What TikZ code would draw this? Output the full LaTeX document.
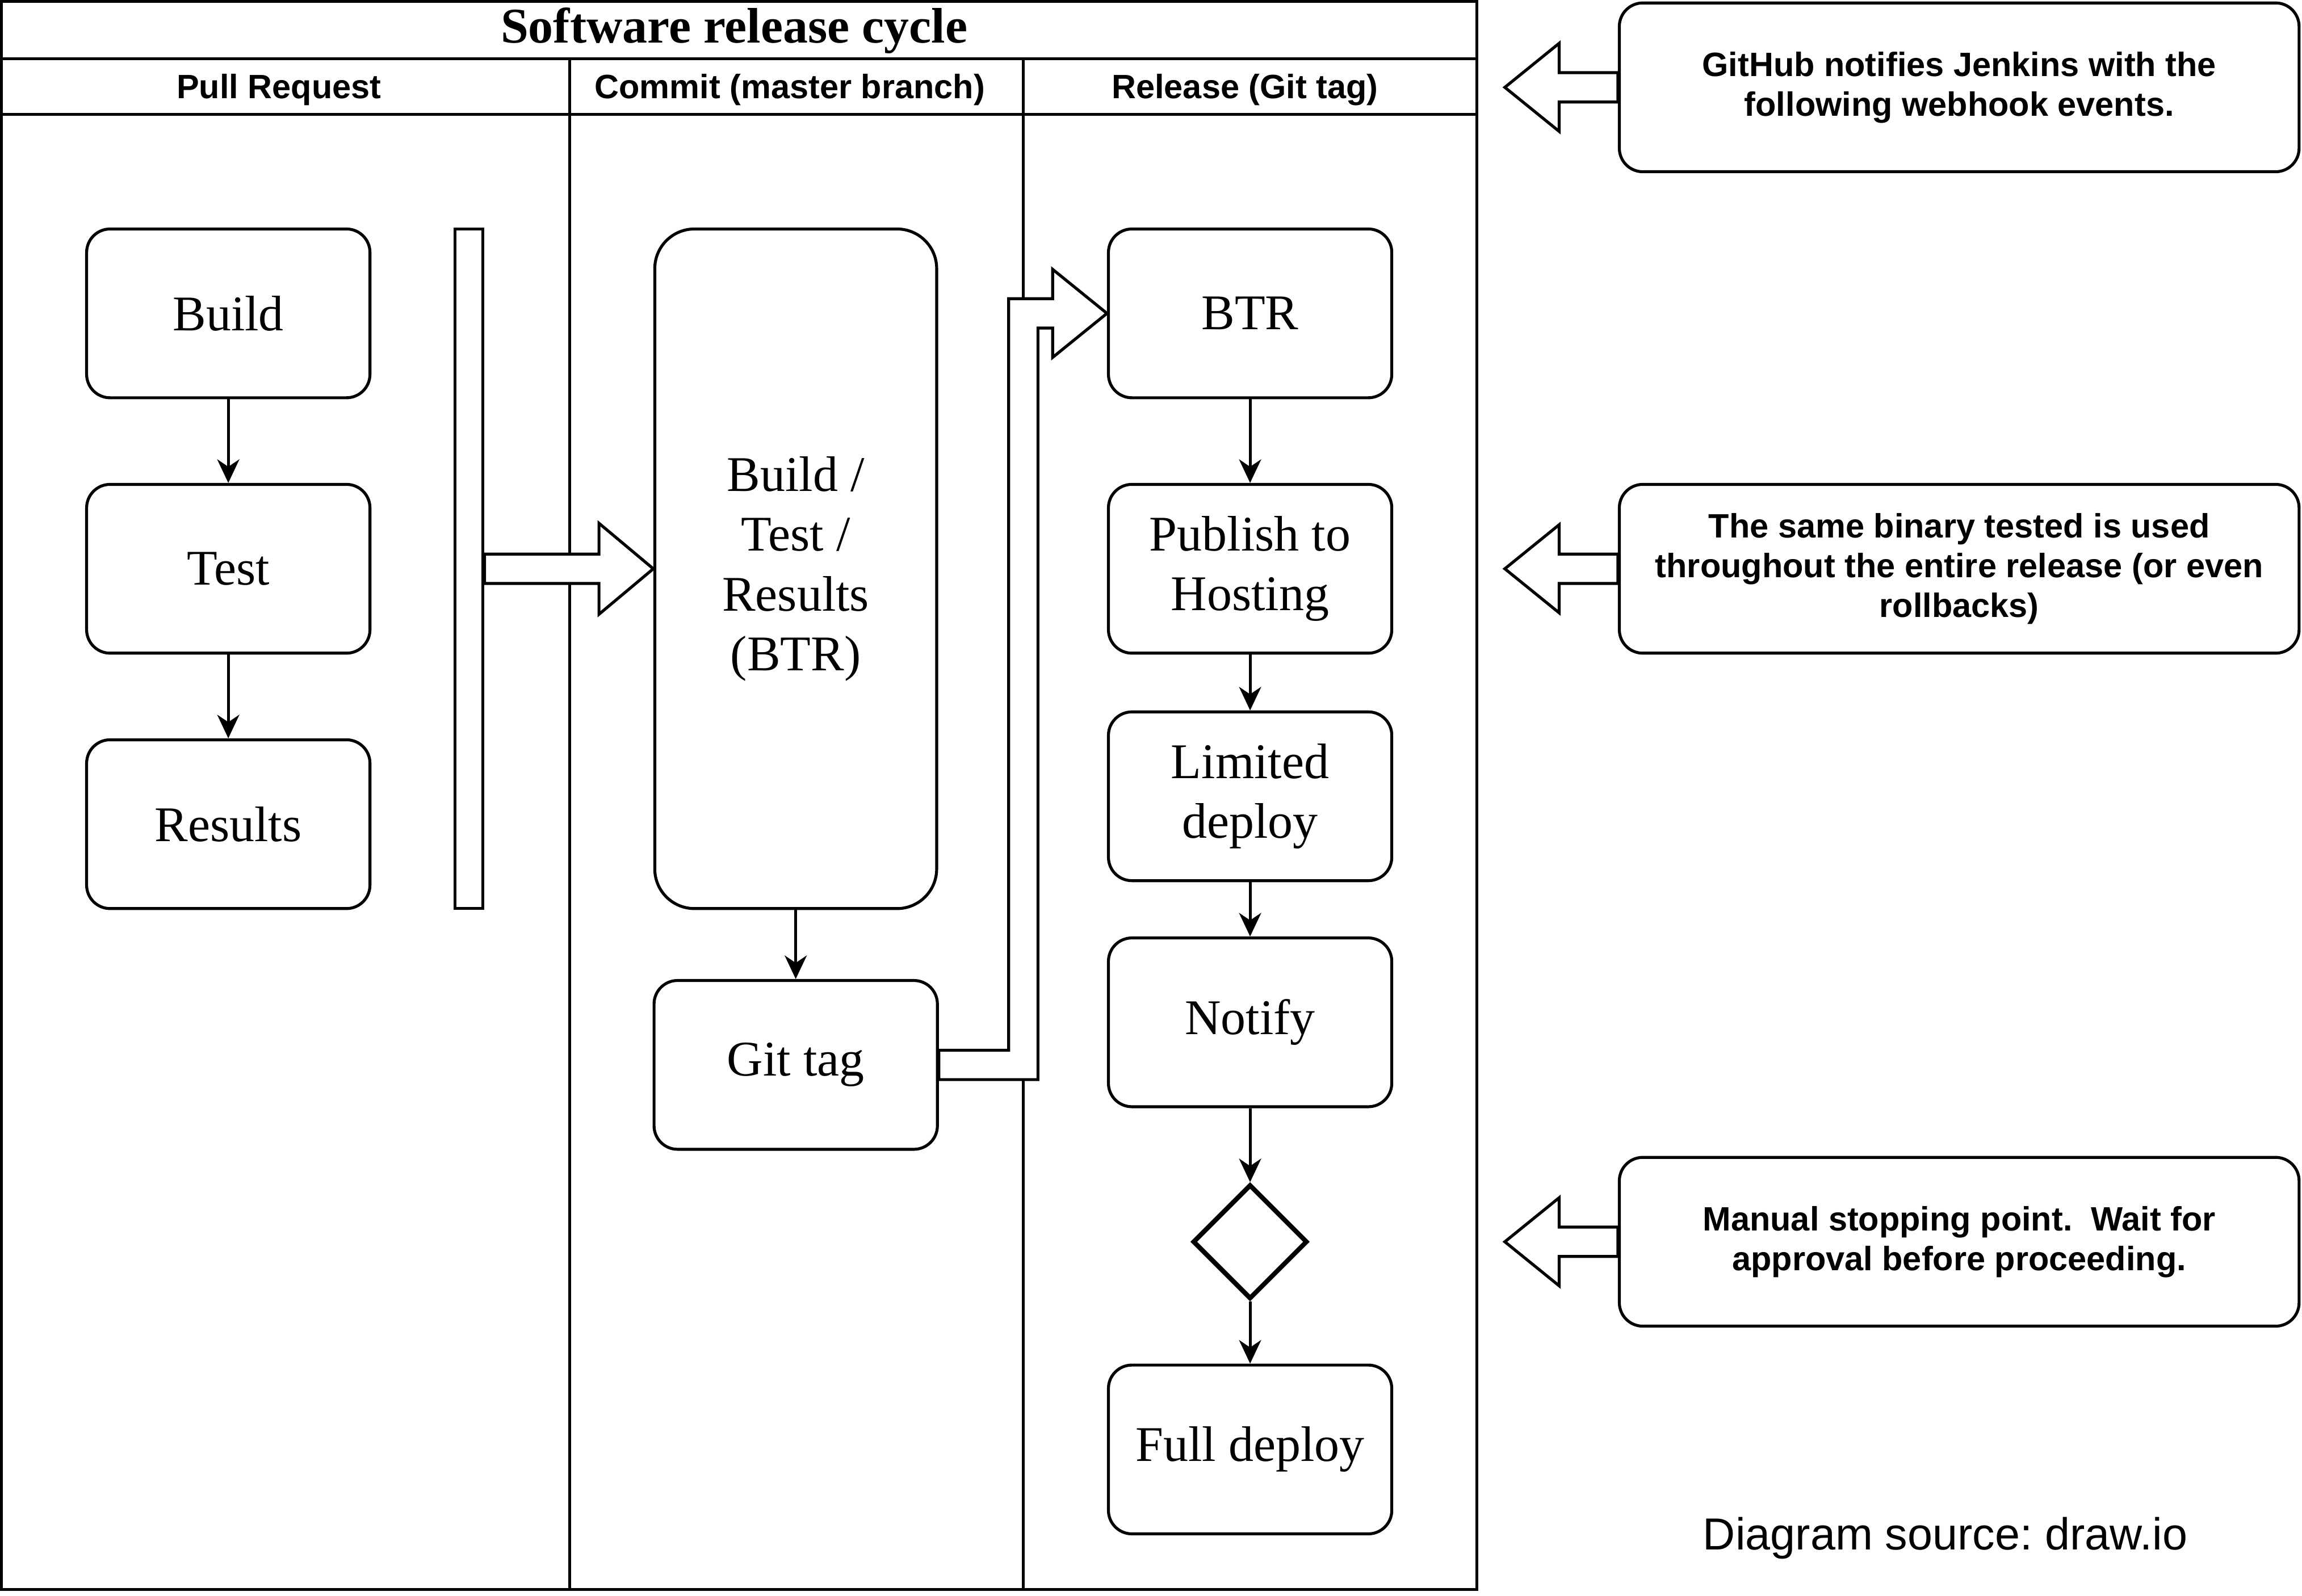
\documentclass[tikz,border=0pt]{standalone}
\usepackage{fontspec}
\setmainfont{Liberation Serif}
\setsansfont{Liberation Sans}
\usetikzlibrary{shapes.geometric,arrows.meta,calc}

\begin{document}
\begin{tikzpicture}[x=0.5pt,y=-0.5pt,
  stage/.style={draw, line width=1pt, rounded corners=8pt, minimum width=96.5pt, minimum height=57.5pt, align=center, inner sep=2pt, font=\fontsize{17}{20.4}\selectfont},
  note/.style={draw, line width=1pt, rounded corners=8pt, minimum width=231.5pt, minimum height=57.5pt, align=center, font=\sffamily\bfseries\fontsize{11.5}{13.5}\selectfont},
  lane/.style={font=\sffamily\bfseries\fontsize{11.5}{13.8}\selectfont},
  fat/.style={draw, fill=white, line width=1pt, line join=miter},
  flow/.style={-{Stealth[length=8pt,width=7.5pt,inset=2.5pt]}, line width=1pt}]

\useasboundingbox (0,0) rectangle (1568,1087);

\draw[line width=1pt] (1,1) rectangle (1006,1083);
\draw[line width=1pt] (1,40) -- (1006,40);
\draw[line width=1pt] (1,78) -- (1006,78);
\draw[line width=1pt] (388,40) -- (388,1083);
\draw[line width=1pt] (697,40) -- (697,1083);
\node[font=\bfseries\fontsize{17}{20}\selectfont] (title) at (500,21) {Software release cycle};
\node[lane] (h1) at (190,61) {Pull Request};
\node[lane] (h2) at (538,61) {Commit (master branch)};
\node[lane] (h3) at (848,61) {Release (Git tag)};

\node[stage] (pr1) at (155.5,213.5) {Build};
\node[stage] (pr2) at (155.5,387.5) {Test};
\node[stage] (pr3) at (155.5,561.5) {Results};
\node[draw, line width=1pt, minimum width=9.5pt, minimum height=231.5pt, inner sep=0pt] (bar) at (319.5,387.5) {};

\node[stage, rounded corners=13.5pt, minimum width=96pt, minimum height=231.5pt] (cm1) at (542,387.5) {Build /\\Test /\\Results\\(BTR)};
\node[stage] (cm2) at (542,725.5) {Git tag};

\node[stage] (rl1) at (851.5,213.5) {BTR};
\node[stage] (rl2) at (851.5,387.5) {Publish to\\Hosting};
\node[stage] (rl3) at (851.5,542.5) {Limited\\deploy};
\node[stage] (rl4) at (851.5,696.5) {Notify};
\node[draw, diamond, line width=1.6pt, minimum width=39pt, minimum height=39pt, inner sep=0pt] (gate) at (851.5,846) {};
\node[stage] (rl5) at (851.5,987.5) {Full deploy};

\draw[flow] (pr1) -- (pr2);
\draw[flow] (pr2) -- (pr3);
\draw[flow] (cm1) -- (cm2);
\draw[flow] (rl1) -- (rl2);
\draw[flow] (rl2) -- (rl3);
\draw[flow] (rl3) -- (rl4);
\draw[flow] (rl4) -- (gate);
\draw[flow] (gate) -- (rl5);

\draw[fat] (cm1.west) -- ++(-37,-31) -- ++(0,21) -- ($(bar.east)+(0,-10)$)
  -- ($(bar.east)+(0,10)$) -- ($(cm1.west)+(-37,10)$) -- ++(0,21) -- cycle;
\draw[fat] ($(cm2.east)+(0,-10)$) -| ($(rl1.west)+(-67,-10)$) -- ($(rl1.west)+(-37,-10)$)
  -- ++(0,-20) -- (rl1.west) -- ++(-37,30) -- ++(0,-20) -- ($(rl1.west)+(-47,10)$)
  |- ($(cm2.east)+(0,10)$) -- cycle;

\node[note] (n1) at (1334.5,59.5) {GitHub notifies Jenkins with the\\following webhook events.};
\node[note] (n2) at (1334.5,387.5) {The same binary tested is used\\throughout the entire release (or even\\rollbacks)};
\node[note] (n3) at (1334.5,846) {Manual stopping point.\ \ Wait for\\approval before proceeding.};

\draw[fat] ($(n1.west)+(0,-10)$) -- ++(-40,0) -- ++(0,-20) -- ++(-37,30) -- ++(37,30) -- ++(0,-20) -- ($(n1.west)+(0,10)$) -- cycle;
\draw[fat] ($(n2.west)+(0,-10)$) -- ++(-40,0) -- ++(0,-20) -- ++(-37,30) -- ++(37,30) -- ++(0,-20) -- ($(n2.west)+(0,10)$) -- cycle;
\draw[fat] ($(n3.west)+(0,-10)$) -- ++(-40,0) -- ++(0,-20) -- ++(-37,30) -- ++(37,30) -- ++(0,-20) -- ($(n3.west)+(0,10)$) -- cycle;

\node[font=\sffamily\fontsize{15.3}{18}\selectfont] (src) at (1325,1048) {Diagram source:\ draw.io};
\end{tikzpicture}
\end{document}
